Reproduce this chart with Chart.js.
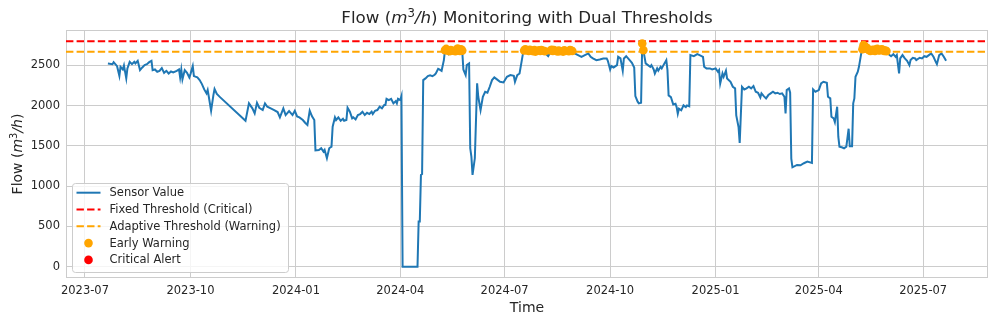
<!DOCTYPE html>
<html>
<head>
<meta charset="utf-8">
<script src="https://cdn.jsdelivr.net/npm/chart.js@4.4.0/dist/chart.umd.min.js"></script>
<style>
  html, body { margin: 0; padding: 0; background: #fff; }
  canvas { display: block; }
</style>
</head>
<body>
<canvas id="chart" width="997" height="324"></canvas>
<script>
// readings, one value per listed date
const dates = [
  '2023-07-21','2023-07-25','2023-07-26','2023-07-29','2023-07-31','2023-08-01','2023-08-03','2023-08-04','2023-08-06','2023-08-07',
  '2023-08-09','2023-08-11','2023-08-13','2023-08-14','2023-08-16','2023-08-18','2023-08-20','2023-08-22','2023-08-24','2023-08-26',
  '2023-08-28','2023-08-29','2023-08-31','2023-09-02','2023-09-04','2023-09-06','2023-09-08','2023-09-10','2023-09-12','2023-09-14',
  '2023-09-16','2023-09-19','2023-09-21','2023-09-22','2023-09-23','2023-09-24','2023-09-26','2023-09-28','2023-09-30','2023-10-01',
  '2023-10-03','2023-10-04','2023-10-07','2023-10-09','2023-10-11','2023-10-13','2023-10-15','2023-10-16','2023-10-17','2023-10-19',
  '2023-10-21','2023-10-22','2023-10-24','2023-10-27','2023-11-18','2023-11-21','2023-11-24','2023-11-26','2023-11-28','2023-11-30',
  '2023-12-03','2023-12-05','2023-12-07','2023-12-10','2023-12-13','2023-12-16','2023-12-18','2023-12-21','2023-12-23','2023-12-26',
  '2023-12-29','2023-12-31','2024-01-02','2024-01-04','2024-01-07','2024-01-09','2024-01-11','2024-01-13','2024-01-15','2024-01-17',
  '2024-01-18','2024-01-21','2024-01-23','2024-01-25','2024-01-26','2024-01-28','2024-01-30','2024-02-01','2024-02-02','2024-02-04',
  '2024-02-05','2024-02-07','2024-02-09','2024-02-11','2024-02-12','2024-02-14','2024-02-15','2024-02-17','2024-02-19','2024-02-20',
  '2024-02-22','2024-02-24','2024-02-26','2024-02-28','2024-03-01','2024-03-03','2024-03-05','2024-03-07','2024-03-08','2024-03-10',
  '2024-03-12','2024-03-14','2024-03-16','2024-03-18','2024-03-19','2024-03-20','2024-03-22','2024-03-24','2024-03-26','2024-03-28',
  '2024-03-29','2024-03-30','2024-04-01','2024-04-02','2024-04-03','2024-04-16','2024-04-17','2024-04-18','2024-04-19','2024-04-20',
  '2024-04-21','2024-04-23','2024-04-25','2024-04-27','2024-04-29','2024-05-01','2024-05-02','2024-05-04','2024-05-05','2024-05-07',
  '2024-05-09','2024-05-10','2024-05-11','2024-05-12','2024-05-13','2024-05-14','2024-05-15','2024-05-16','2024-05-17','2024-05-18',
  '2024-05-19','2024-05-20','2024-05-21','2024-05-22','2024-05-23','2024-05-24','2024-05-25','2024-05-26','2024-05-28','2024-05-29',
  '2024-05-31','2024-06-01','2024-06-02','2024-06-03','2024-06-05','2024-06-07','2024-06-08','2024-06-10','2024-06-12','2024-06-14',
  '2024-06-16','2024-06-18','2024-06-20','2024-06-22','2024-06-24','2024-06-27','2024-06-30','2024-07-03','2024-07-06','2024-07-09',
  '2024-07-10','2024-07-12','2024-07-14','2024-07-16','2024-07-17','2024-07-18','2024-07-19','2024-07-20','2024-07-21','2024-07-22',
  '2024-07-23','2024-07-24','2024-07-25','2024-07-26','2024-07-27','2024-07-28','2024-07-29','2024-07-30','2024-07-31','2024-08-01',
  '2024-08-02','2024-08-03','2024-08-04','2024-08-05','2024-08-06','2024-08-07','2024-08-08','2024-08-09','2024-08-10','2024-08-11',
  '2024-08-12','2024-08-13','2024-08-14','2024-08-15','2024-08-16','2024-08-17','2024-08-18','2024-08-19','2024-08-20','2024-08-21',
  '2024-08-22','2024-08-23','2024-08-24','2024-08-25','2024-08-26','2024-08-27','2024-08-28','2024-08-29','2024-08-30','2024-08-31',
  '2024-09-03','2024-09-06','2024-09-09','2024-09-12','2024-09-14','2024-09-16','2024-09-19','2024-09-22','2024-09-25','2024-09-28',
  '2024-09-29','2024-10-01','2024-10-02','2024-10-04','2024-10-07','2024-10-08','2024-10-10','2024-10-12','2024-10-13','2024-10-15',
  '2024-10-18','2024-10-20','2024-10-22','2024-10-23','2024-10-25','2024-10-26','2024-10-28','2024-10-29','2024-10-30','2024-10-31',
  '2024-11-01','2024-11-03','2024-11-05','2024-11-06','2024-11-08','2024-11-09','2024-11-11','2024-11-12','2024-11-14','2024-11-15',
  '2024-11-17','2024-11-19','2024-11-20','2024-11-21','2024-11-23','2024-11-25','2024-11-27','2024-11-28','2024-11-29','2024-11-30',
  '2024-12-02','2024-12-04','2024-12-06','2024-12-07','2024-12-09','2024-12-10','2024-12-13','2024-12-16','2024-12-18','2024-12-21',
  '2024-12-22','2024-12-24','2024-12-27','2024-12-29','2025-01-01','2025-01-03','2025-01-04','2025-01-05','2025-01-07','2025-01-08',
  '2025-01-10','2025-01-11','2025-01-14','2025-01-16','2025-01-18','2025-01-19','2025-01-21','2025-01-22','2025-01-24','2025-01-26',
  '2025-01-28','2025-01-30','2025-02-01','2025-02-03','2025-02-05','2025-02-07','2025-02-09','2025-02-10','2025-02-12','2025-02-14',
  '2025-02-16','2025-02-18','2025-02-20','2025-02-22','2025-02-24','2025-02-26','2025-02-28','2025-03-02','2025-03-03','2025-03-04',
  '2025-03-06','2025-03-07','2025-03-08','2025-03-09','2025-03-13','2025-03-16','2025-03-19','2025-03-22','2025-03-26','2025-03-27',
  '2025-03-29','2025-04-01','2025-04-03','2025-04-05','2025-04-08','2025-04-09','2025-04-11','2025-04-12','2025-04-14','2025-04-15',
  '2025-04-17','2025-04-18','2025-04-19','2025-04-21','2025-04-23','2025-04-25','2025-04-27','2025-04-28','2025-04-30','2025-05-01',
  '2025-05-02','2025-05-03','2025-05-05','2025-05-06','2025-05-07','2025-05-08','2025-05-09','2025-05-10','2025-05-11','2025-05-12',
  '2025-05-13','2025-05-14','2025-05-15','2025-05-16','2025-05-17','2025-05-18','2025-05-19','2025-05-20','2025-05-21','2025-05-22',
  '2025-05-23','2025-05-24','2025-05-25','2025-05-26','2025-05-27','2025-05-28','2025-05-29','2025-05-30','2025-05-31','2025-06-03',
  '2025-06-05','2025-06-07','2025-06-08','2025-06-10','2025-06-11','2025-06-13','2025-06-15','2025-06-17','2025-06-19','2025-06-20',
  '2025-06-22','2025-06-24','2025-06-25','2025-06-28','2025-06-30','2025-07-02','2025-07-04','2025-07-06','2025-07-08','2025-07-10',
  '2025-07-12','2025-07-13','2025-07-15','2025-07-17','2025-07-19','2025-07-21'
];
const flow = [
  2525,2516,2541,2491,2371,2483,2450,2500,2339,2463,
  2545,2516,2545,2525,2557,2442,2475,2504,2516,2541,
  2557,2442,2450,2421,2433,2467,2408,2433,2400,2425,
  2413,2433,2450,2351,2450,2326,2442,2408,2351,2392,
  2491,2367,2351,2318,2268,2202,2153,2194,2111,1937,
  2132,2207,2145,2103,1812,2029,1967,1905,2036,1974,
  1946,2029,1987,1967,1946,1921,1855,1967,1884,1934,
  1884,1937,1867,1855,1822,1788,1760,1937,1867,1822,
  1446,1450,1471,1429,1450,1347,1471,1491,1739,1855,
  1822,1855,1813,1838,1813,1822,1974,1925,1843,1855,
  1830,1884,1896,1925,1884,1912,1896,1925,1896,1937,
  1946,1987,1967,2008,2008,2086,2070,2086,2029,2057,
  2029,2086,2070,2119,0,0,561,561,1140,1151,
  2318,2339,2367,2376,2367,2384,2400,2458,2450,2433,
  2566,2690,2705,2685,2648,2678,2692,2682,2655,2660,
  2676,2695,2710,2690,2680,2700,2684,2450,2380,2504,
  2525,1471,1367,1140,1347,2277,2111,1946,2111,2173,
  2161,2235,2318,2351,2330,2297,2289,2359,2380,2372,
  2297,2380,2400,2566,2649,2685,2700,2690,2660,2680,
  2695,2685,2655,2678,2690,2672,2650,2665,2688,2680,
  2692,2660,2683,2676,2640,2630,2615,2640,2685,2695,
  2680,2690,2660,2650,2675,2685,2678,2660,2645,2672,
  2688,2680,2665,2655,2676,2690,2684,2680,2660,2649,
  2628,2607,2628,2649,2607,2587,2566,2574,2587,2587,
  2558,2450,2492,2475,2504,2607,2587,2434,2587,2615,
  2566,2533,2475,2120,2050,2029,2037,2773,2690,2607,
  2525,2504,2483,2504,2450,2400,2463,2434,2483,2463,
  2516,2566,2442,2128,2107,2016,2025,1983,1900,1962,
  1942,2004,1983,2004,1992,2628,2615,2640,2628,2607,
  2483,2463,2463,2450,2463,2421,2442,2276,2400,2359,
  2434,2338,2297,2235,2215,1880,1735,1536,2235,2202,
  2215,2235,2215,2243,2173,2161,2103,2153,2119,2091,
  2132,2153,2173,2153,2161,2145,2153,2111,1905,2194,
  2215,2161,1343,1235,1264,1260,1285,1305,1290,2202,
  2173,2194,2277,2297,2284,2111,2091,1863,1843,1797,
  1987,1615,1491,1483,1471,1491,1714,1495,1495,2029,
  2091,2359,2421,2483,2566,2649,2700,2752,2740,2725,
  2715,2700,2690,2680,2685,2695,2690,2680,2700,2705,
  2690,2685,2695,2700,2690,2680,2685,2678,2649,2615,
  2640,2607,2628,2400,2587,2628,2587,2557,2504,2566,
  2595,2587,2566,2595,2587,2615,2607,2628,2649,2607,
  2545,2516,2628,2649,2607,2558
];
const fixedThreshold = 2800;
const adaptiveThreshold = 2670;
const xTickLabels = ['2023-07', '2023-10', '2024-01', '2024-04', '2024-07', '2024-10', '2025-01', '2025-04', '2025-07'];
const yTickValues = [0, 500, 1000, 1500, 2000, 2500];

const FONT = "'DejaVu Sans', sans-serif";
const INK = '#262626';
const GRID = '#cccccc';
const BLUE = '#1f77b4';
const ORANGE = '#ffa500';
const RED = '#ff0000';

const times = dates.map(d => Date.parse(d));
const sensor = times.map((t, i) => ({ x: t, y: flow[i] }));
const warnings = sensor.filter(p => p.y > adaptiveThreshold && p.y <= fixedThreshold);
const criticals = sensor.filter(p => p.y > fixedThreshold);

// matplotlib-like 5% margins
const tSpan = times[times.length - 1] - times[0];
const xMin = times[0] - 0.05 * tSpan;
const xMax = times[times.length - 1] + 0.05 * tSpan;
const yMin = -0.05 * fixedThreshold;
const yMax = fixedThreshold * 1.05;

// text with italic / superscript pieces, centred on (cx, baseline)
function drawRich(ctx, parts, size, cx, baseline) {
  const fontFor = p => (p.italic ? 'italic ' : '') + (p.sup ? size * 0.7 : size) + 'px ' + FONT;
  let total = 0;
  parts.forEach(p => { ctx.font = fontFor(p); total += ctx.measureText(p.t).width; });
  let x = cx - total / 2;
  ctx.textAlign = 'left';
  ctx.textBaseline = 'alphabetic';
  ctx.fillStyle = INK;
  parts.forEach(p => {
    ctx.font = fontFor(p);
    ctx.fillText(p.t, x, p.sup ? baseline - size * 0.38 : baseline);
    x += ctx.measureText(p.t).width;
  });
}

const unitParts = [{ t: 'm', italic: true }, { t: '3', sup: true }, { t: '/h', italic: true }];

const decorations = {
  id: 'decorations',
  beforeDatasetsDraw(chart) {
    const { ctx, chartArea: a } = chart;
    ctx.save();
    ctx.strokeStyle = GRID;
    ctx.lineWidth = 1;
    ctx.strokeRect(a.left + 0.5, a.top + 0.5, a.right - a.left - 1, a.bottom - a.top - 1);
    ctx.restore();
  },
  afterDraw(chart) {
    const { ctx, chartArea: a } = chart;
    ctx.save();
    // title
    drawRich(ctx, [{ t: 'Flow (' }, ...unitParts, { t: ') Monitoring with Dual Thresholds' }],
      16.7, (a.left + a.right) / 2, 23);
    // y axis label
    ctx.translate(17, (a.top + a.bottom) / 2);
    ctx.rotate(-Math.PI / 2);
    drawRich(ctx, [{ t: 'Flow (' }, ...unitParts, { t: ')' }], 14, 0, 5);
    ctx.restore();

    // legend, lower left
    const items = chart.data.datasets;
    const fs = 11.5;
    const bx = a.left + 6, by = 183, bw = 216, bh = 89;
    ctx.save();
    ctx.beginPath();
    ctx.roundRect(bx + 0.5, by + 0.5, bw, bh, 3);
    ctx.fillStyle = 'rgba(255,255,255,0.8)';
    ctx.fill();
    ctx.strokeStyle = GRID;
    ctx.lineWidth = 1;
    ctx.stroke();
    ctx.font = fs + 'px ' + FONT;
    ctx.textBaseline = 'middle';
    ctx.textAlign = 'left';
    items.forEach((ds, i) => {
      const cy = by + 9.7 + i * 16.8;
      if (ds.showLine === false) {
        ctx.beginPath();
        ctx.arc(bx + 16.5, cy, ds.pointRadius, 0, Math.PI * 2);
        ctx.fillStyle = ds.backgroundColor;
        ctx.fill();
      } else {
        ctx.beginPath();
        ctx.setLineDash(ds.borderDash || []);
        ctx.moveTo(bx + 4.5, cy);
        ctx.lineTo(bx + 28.5, cy);
        ctx.strokeStyle = ds.borderColor;
        ctx.lineWidth = ds.borderWidth;
        ctx.stroke();
        ctx.setLineDash([]);
      }
      ctx.fillStyle = INK;
      ctx.fillText(ds.label, bx + 37.5, cy + 0.5);
    });
    ctx.restore();
  }
};

new Chart(document.getElementById('chart'), {
  type: 'line',
  data: {
    datasets: [
      {
        label: 'Sensor Value', data: sensor, borderColor: BLUE, backgroundColor: BLUE,
        borderWidth: 2, pointRadius: 0, tension: 0, order: 3
      },
      {
        label: 'Fixed Threshold (Critical)', data: [{ x: xMin, y: fixedThreshold }, { x: xMax, y: fixedThreshold }],
        borderColor: RED, borderWidth: 2, borderDash: [7.4, 3.2], pointRadius: 0, order: 2
      },
      {
        label: 'Adaptive Threshold (Warning)', data: [{ x: xMin, y: adaptiveThreshold }, { x: xMax, y: adaptiveThreshold }],
        borderColor: ORANGE, borderWidth: 2, borderDash: [7.4, 3.2], pointRadius: 0, order: 2
      },
      {
        label: 'Early Warning', data: warnings, showLine: false, pointRadius: 4.3, pointHoverRadius: 4.3,
        pointBorderWidth: 0, backgroundColor: ORANGE, pointBackgroundColor: ORANGE, order: 1
      },
      {
        label: 'Critical Alert', data: criticals, showLine: false, pointRadius: 4.3, pointHoverRadius: 4.3,
        pointBorderWidth: 0, backgroundColor: RED, pointBackgroundColor: RED, order: 0
      }
    ]
  },
  options: {
    responsive: false,
    animation: false,
    devicePixelRatio: 1,
    layout: { autoPadding: false, padding: { top: 30, right: 9, bottom: 0, left: 0 } },
    plugins: { legend: { display: false }, title: { display: false }, tooltip: { enabled: false } },
    scales: {
      x: {
        type: 'linear', min: xMin, max: xMax,
        afterFit: s => { s.height = 46; },
        afterBuildTicks: s => { s.ticks = xTickLabels.map(l => ({ value: Date.parse(l + '-01') })); },
        ticks: {
          callback: (v, i) => xTickLabels[i], maxRotation: 0, autoSkip: false,
          color: INK, font: { family: FONT, size: 11.5 }, padding: 6
        },
        grid: { color: GRID, lineWidth: 1, drawTicks: false },
        border: { display: false },
        title: { display: true, text: 'Time', color: INK, font: { family: FONT, size: 14 }, padding: { top: 0, bottom: 7 } }
      },
      y: {
        min: yMin, max: yMax,
        afterFit: s => { s.width = 66; },
        afterBuildTicks: s => { s.ticks = yTickValues.map(v => ({ value: v })); },
        ticks: { callback: v => String(v), color: INK, font: { family: FONT, size: 11.5 }, padding: 6 },
        grid: { color: GRID, lineWidth: 1, drawTicks: false },
        border: { display: false }
      }
    }
  },
  plugins: [decorations]
});
</script>
</body>
</html>
